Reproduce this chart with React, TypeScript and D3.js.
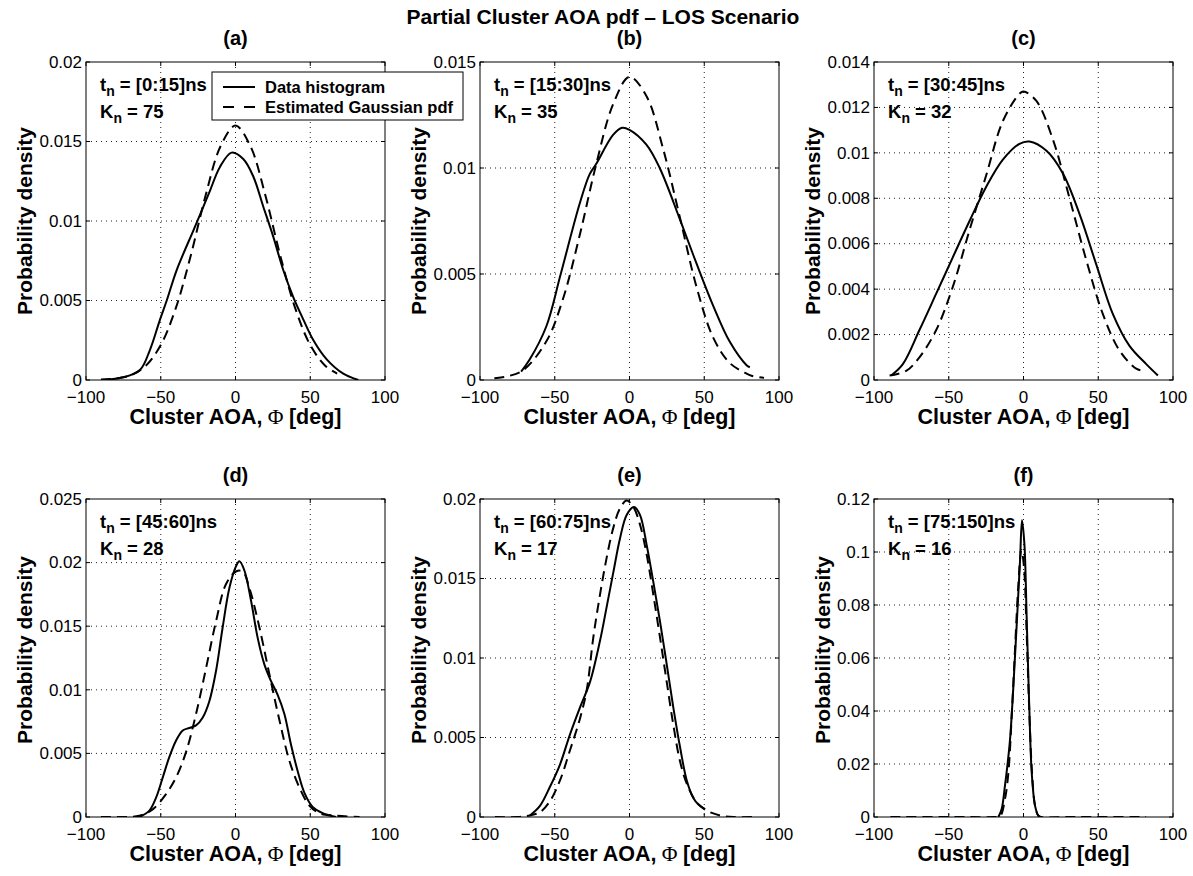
import * as d3 from 'd3';

type Pt = [number, number];

// values: [AOA deg, probability density]
const histA: Pt[] = [[-89, 0], [-75, 0.00017], [-63.9, 0.00063], [-57.2, 0.0019], [-50.5, 0.0038], [-46, 0.005], [-39.4, 0.0069], [-28.2, 0.0094], [-23.7, 0.0104], [-17.1, 0.0119], [-10.4, 0.0134], [-2.6, 0.0143], [5.2, 0.0139], [11.9, 0.0128], [18.6, 0.0109], [25.3, 0.009], [32, 0.0069], [38.7, 0.0052], [45.4, 0.0038], [52.1, 0.0025], [61, 0.0013], [72.1, 0.0004], [82.2, 0]];
const gaussA: Pt[] = [[-90, 0.00003], [-80, 0.0001], [-70, 0.0003], [-60, 0.0009], [-50, 0.0022], [-40, 0.0045], [-30, 0.0078], [-20, 0.0116], [-10, 0.0147], [0, 0.016], [10, 0.0147], [20, 0.0116], [30, 0.0078], [40, 0.0045], [50, 0.0022], [60, 0.0009], [68, 0.0004]];

const histB: Pt[] = [[-72.5, 0.0004], [-67, 0.00094], [-55.8, 0.0025], [-46, 0.005], [-33.4, 0.0083], [-26.7, 0.0097], [-22.2, 0.0102], [-11, 0.01156], [-5, 0.0119], [0, 0.0118], [11.3, 0.0111], [20.2, 0.01], [33.6, 0.0076], [44.8, 0.0055], [56, 0.0035], [67.1, 0.0018], [78.3, 0.0007], [80.5, 0.0006]];
const gaussB: Pt[] = [[-90.4, 0.00008], [-72.5, 0.0004], [-55.8, 0.0018], [-44.6, 0.0038], [-33.4, 0.0068], [-22.2, 0.0102], [-11, 0.013], [0, 0.0143], [11.3, 0.0134], [22.5, 0.0109], [33.6, 0.0077], [44.8, 0.0044], [56, 0.002], [67.1, 0.0008], [78.3, 0.0003], [81.6, 0.0002], [90, 0.0001]];

const histC: Pt[] = [[-88.5, 0.0002], [-80.7, 0.0007], [-69.6, 0.0022], [-58.4, 0.0038], [-47.3, 0.0054], [-36.1, 0.007], [-25, 0.0085], [-13.8, 0.0097], [-2.7, 0.0104], [4, 0.0105], [15.2, 0.0101], [26.3, 0.0091], [37.5, 0.0073], [48.6, 0.0051], [59.8, 0.0029], [70.9, 0.0015], [82.1, 0.0007], [89.9, 0.0002]];
const gaussC: Pt[] = [[-89.6, 0.0002], [-78.5, 0.0004], [-69.6, 0.001], [-58.4, 0.0022], [-47.3, 0.0041], [-36.1, 0.0066], [-25, 0.009], [-13.8, 0.0114], [-2.7, 0.0126], [0, 0.0127], [8.5, 0.0123], [19.6, 0.0106], [30.8, 0.008], [41.9, 0.0053], [53.1, 0.0029], [64.2, 0.0013], [75.4, 0.0005], [81, 0.0004]];

const histD: Pt[] = [[-64.3, 0], [-57.6, 0.0005], [-53.2, 0.0015], [-48.7, 0.0031], [-44.3, 0.0047], [-39.8, 0.006], [-35.3, 0.0068], [-30.9, 0.007], [-26.4, 0.0072], [-22, 0.0078], [-17.5, 0.0091], [-13, 0.0115], [-8.6, 0.0149], [-4.1, 0.018], [0.3, 0.0197], [2.6, 0.0201], [5.9, 0.0194], [10.4, 0.017], [14.8, 0.0141], [19.3, 0.012], [23.7, 0.0107], [28.2, 0.0096], [32.7, 0.0081], [37.1, 0.0057], [41.6, 0.0036], [46.1, 0.0019], [51.6, 0.0008], [58.3, 0.0003], [67.2, 0]];
const gaussD: Pt[] = [[-90, 0], [-75, 0], [-64.3, 0.0001], [-55.4, 0.0006], [-46.5, 0.0018], [-39.8, 0.0031], [-33.1, 0.0051], [-26.4, 0.0081], [-19.7, 0.0117], [-13, 0.0154], [-6.4, 0.0183], [0.3, 0.0193], [4.8, 0.0193], [9.3, 0.018], [16, 0.0149], [22.7, 0.0112], [29.4, 0.0076], [36.1, 0.0044], [42.8, 0.0023], [49.4, 0.0009], [56.1, 0.0003], [67.2, 0.0001], [83, 0]];

const histE: Pt[] = [[-66.6, 0.0001], [-59.9, 0.0007], [-53.2, 0.0019], [-46.5, 0.0033], [-39.8, 0.0052], [-33.1, 0.0069], [-26.4, 0.0085], [-19.7, 0.0111], [-15.3, 0.0132], [-10.8, 0.0154], [-6.4, 0.0175], [-1.9, 0.019], [3, 0.0195], [7, 0.019], [11.5, 0.0171], [15.9, 0.0148], [20.4, 0.0123], [24.9, 0.0096], [29.3, 0.0069], [33.8, 0.0044], [38.3, 0.0023], [42.7, 0.0012], [46, 0.0008], [50.5, 0.0005]];
const gaussE: Pt[] = [[-90, 0], [-75, 0], [-66.6, 0.0001], [-59.9, 0.0003], [-53.2, 0.001], [-46.5, 0.0023], [-39.8, 0.0042], [-33.1, 0.0062], [-28.6, 0.008], [-24.2, 0.0113], [-19.7, 0.014], [-15.3, 0.0163], [-10.8, 0.0182], [-6.4, 0.0194], [-1.9, 0.0199], [2.6, 0.0195], [7, 0.0184], [11.5, 0.0165], [15.9, 0.014], [20.4, 0.0113], [24.9, 0.0085], [29.3, 0.0058], [33.8, 0.0035], [38.3, 0.0021], [45, 0.0009], [51.6, 0.0004], [60.5, 0.0001], [70, 0], [83, 0]];

const histF: Pt[] = [[-16.8, 0], [-14.6, 0.003], [-12.4, 0.0118], [-10.8, 0.0193], [-9, 0.0293], [-6.8, 0.049], [-4.6, 0.072], [-2.3, 0.097], [-1, 0.112], [0.6, 0.103], [2.1, 0.0757], [3.7, 0.0444], [5.5, 0.0168], [7.7, 0.0043], [9.9, 0.0005], [11, 0]];
const gaussF: Pt[] = [[-89, 0], [-40, 0], [-20, 0], [-15.7, 0.0003], [-12.4, 0.0068], [-10.1, 0.0168], [-7.9, 0.038], [-5.7, 0.063], [-3.5, 0.087], [-1.4, 0.1008], [0.3, 0.0945], [2.1, 0.0695], [3.9, 0.0394], [5.7, 0.0168], [7.7, 0.0043], [9.9, 0.0005], [12, 0], [30, 0], [82, 0]];

const HIST = [histA, histB, histC, histD, histE, histF];
const GAUSS = [gaussA, gaussB, gaussC, gaussD, gaussE, gaussF];

const PANEL_TAGS = ['(a)', '(b)', '(c)', '(d)', '(e)', '(f)'];
const TIME_WINDOWS = ['[0:15]', '[15:30]', '[30:45]', '[45:60]', '[60:75]', '[75:150]'];
const CLUSTER_COUNTS = [75, 35, 32, 28, 17, 16];

const X_TICKS = [-100, -50, 0, 50, 100];
const Y_TICKS = [
  [0, 0.005, 0.01, 0.015, 0.02],
  [0, 0.005, 0.01, 0.015],
  [0, 0.002, 0.004, 0.006, 0.008, 0.01, 0.012, 0.014],
  [0, 0.005, 0.01, 0.015, 0.02, 0.025],
  [0, 0.005, 0.01, 0.015, 0.02],
  [0, 0.02, 0.04, 0.06, 0.08, 0.1, 0.12],
];

const TITLE = 'Partial Cluster AOA pdf \u2013 LOS Scenario';
const LEGEND = ['Data histogram', 'Estimated Gaussian pdf'];

const FONT = '"Liberation Sans", Arial, Helvetica, sans-serif';
const LEFTS = [86, 480, 874];
const TOPS = [62, 499];
const YLABEL_SHIFT = [0, -8];
const W = 299;
const H = 318;
const TICK_FS = 17;
const DASH = '10,6';

const fmtY = (v: number) => (v === 0 ? '0' : String(+v.toFixed(4)));
const fmtX = (v: number) => (v < 0 ? '\u2212' + Math.abs(v) : String(v));
const labelWidth = (s: string) =>
  [...s].reduce((w, c) => w + (c === '.' ? 0.278 : 0.556), 0) * TICK_FS;

function Panel({ idx }: { idx: number }) {
  const row = Math.floor(idx / 3);
  const left = LEFTS[idx % 3];
  const top = TOPS[row];
  const yt = Y_TICKS[idx];
  const x = d3.scaleLinear().domain([-100, 100]).range([left, left + W]);
  const y = d3.scaleLinear().domain([0, yt[yt.length - 1]]).range([top + H, top]);
  const line = d3.line<Pt>()
    .x(d => x(d[0]))
    .y(d => y(d[1]))
    .curve(d3.curveCatmullRom.alpha(0.5));
  const clipId = `clip-${idx}`;
  const maxW = d3.max(yt, v => labelWidth(fmtY(v))) ?? 0;
  const yLabelX = left - 4 - maxW - 7;
  const cx = left + W / 2;

  return (
    <g>
      <defs>
        <clipPath id={clipId}>
          <rect x={left} y={top} width={W} height={H} />
        </clipPath>
      </defs>
      <rect x={left} y={top} width={W} height={H} fill="#fff" />

      {/* dotted grid */}
      <g stroke="#222" strokeWidth={1} strokeDasharray="1,4">
        {X_TICKS.slice(1, -1).map(t => (
          <line key={`gx${t}`} x1={x(t)} x2={x(t)} y1={top} y2={top + H} />
        ))}
        {yt.slice(1, -1).map(t => (
          <line key={`gy${t}`} x1={left} x2={left + W} y1={y(t)} y2={y(t)} />
        ))}
      </g>

      <g clipPath={`url(#${clipId})`} fill="none" stroke="#000" strokeWidth={2}>
        <path d={line(GAUSS[idx]) ?? ''} strokeDasharray={DASH} />
        <path d={line(HIST[idx]) ?? ''} />
      </g>

      {/* box and inward ticks */}
      <rect x={left} y={top} width={W} height={H} fill="none" stroke="#000" strokeWidth={1} />
      <g stroke="#000" strokeWidth={1}>
        {X_TICKS.map(t => (
          <g key={`tx${t}`}>
            <line x1={x(t)} x2={x(t)} y1={top + H} y2={top + H - 4} />
            <line x1={x(t)} x2={x(t)} y1={top} y2={top + 4} />
          </g>
        ))}
        {yt.map(t => (
          <g key={`ty${t}`}>
            <line x1={left} x2={left + 4} y1={y(t)} y2={y(t)} />
            <line x1={left + W} x2={left + W - 4} y1={y(t)} y2={y(t)} />
          </g>
        ))}
      </g>

      <g fontFamily={FONT} fontSize={TICK_FS} fill="#000">
        {X_TICKS.map(t => (
          <text key={`lx${t}`} x={x(t)} y={top + H + 23} textAnchor="middle">{fmtX(t)}</text>
        ))}
        {yt.map(t => (
          <text key={`ly${t}`} x={left - 4} y={y(t)} dy="0.34em" textAnchor="end">{fmtY(t)}</text>
        ))}
      </g>

      <g fontFamily={FONT} fontWeight="bold" fill="#000">
        <text x={cx} y={top - 17} textAnchor="middle" fontSize={20}>{PANEL_TAGS[idx]}</text>
        <text x={cx} y={top + H + 44} textAnchor="middle" fontSize={21.5}>
          Cluster AOA,
          <tspan fontFamily='"Liberation Serif", "DejaVu Serif", serif' fontWeight="normal"> {'\u03A6'} </tspan>
          [deg]
        </text>
        <text
          transform={`translate(${yLabelX},${top + H / 2 + YLABEL_SHIFT[row]}) rotate(-90)`}
          textAnchor="middle"
          fontSize={21}
        >
          Probability density
        </text>
        <text x={left + 14} y={top + 29} fontSize={18.5}>
          t<tspan dy={5} fontSize={14}>n</tspan>
          <tspan dy={-5}> = {TIME_WINDOWS[idx]}ns</tspan>
        </text>
        <text x={left + 14} y={top + 56} fontSize={18.5}>
          K<tspan dy={5} fontSize={14}>n</tspan>
          <tspan dy={-5}> = {CLUSTER_COUNTS[idx]}</tspan>
        </text>
      </g>
    </g>
  );
}

function Legend() {
  const left = LEFTS[0] + 126;
  const top = TOPS[0] + 10;
  return (
    <g>
      <rect x={left} y={top} width={251} height={48} fill="#fff" stroke="#000" strokeWidth={1} />
      <line x1={left + 11} x2={left + 43} y1={top + 15} y2={top + 15} stroke="#000" strokeWidth={2} />
      <line x1={left + 11} x2={left + 43} y1={top + 35} y2={top + 35} stroke="#000" strokeWidth={2} strokeDasharray="11,10" />
      <g fontFamily={FONT} fontWeight="bold" fontSize={16.5} fill="#000">
        <text x={left + 53} y={top + 21}>{LEGEND[0]}</text>
        <text x={left + 53} y={top + 41}>{LEGEND[1]}</text>
      </g>
    </g>
  );
}

export default function App() {
  return (
    <svg
      width={1193}
      height={876}
      style={{ position: 'absolute', left: 0, top: 0, background: '#fff' }}
    >
      <rect width={1193} height={876} fill="#fff" />
      <text x={603} y={24} textAnchor="middle" fontFamily={FONT} fontWeight="bold" fontSize={21}>
        {TITLE}
      </text>
      {d3.range(6).map(i => <Panel key={i} idx={i} />)}
      <Legend />
    </svg>
  );
}
